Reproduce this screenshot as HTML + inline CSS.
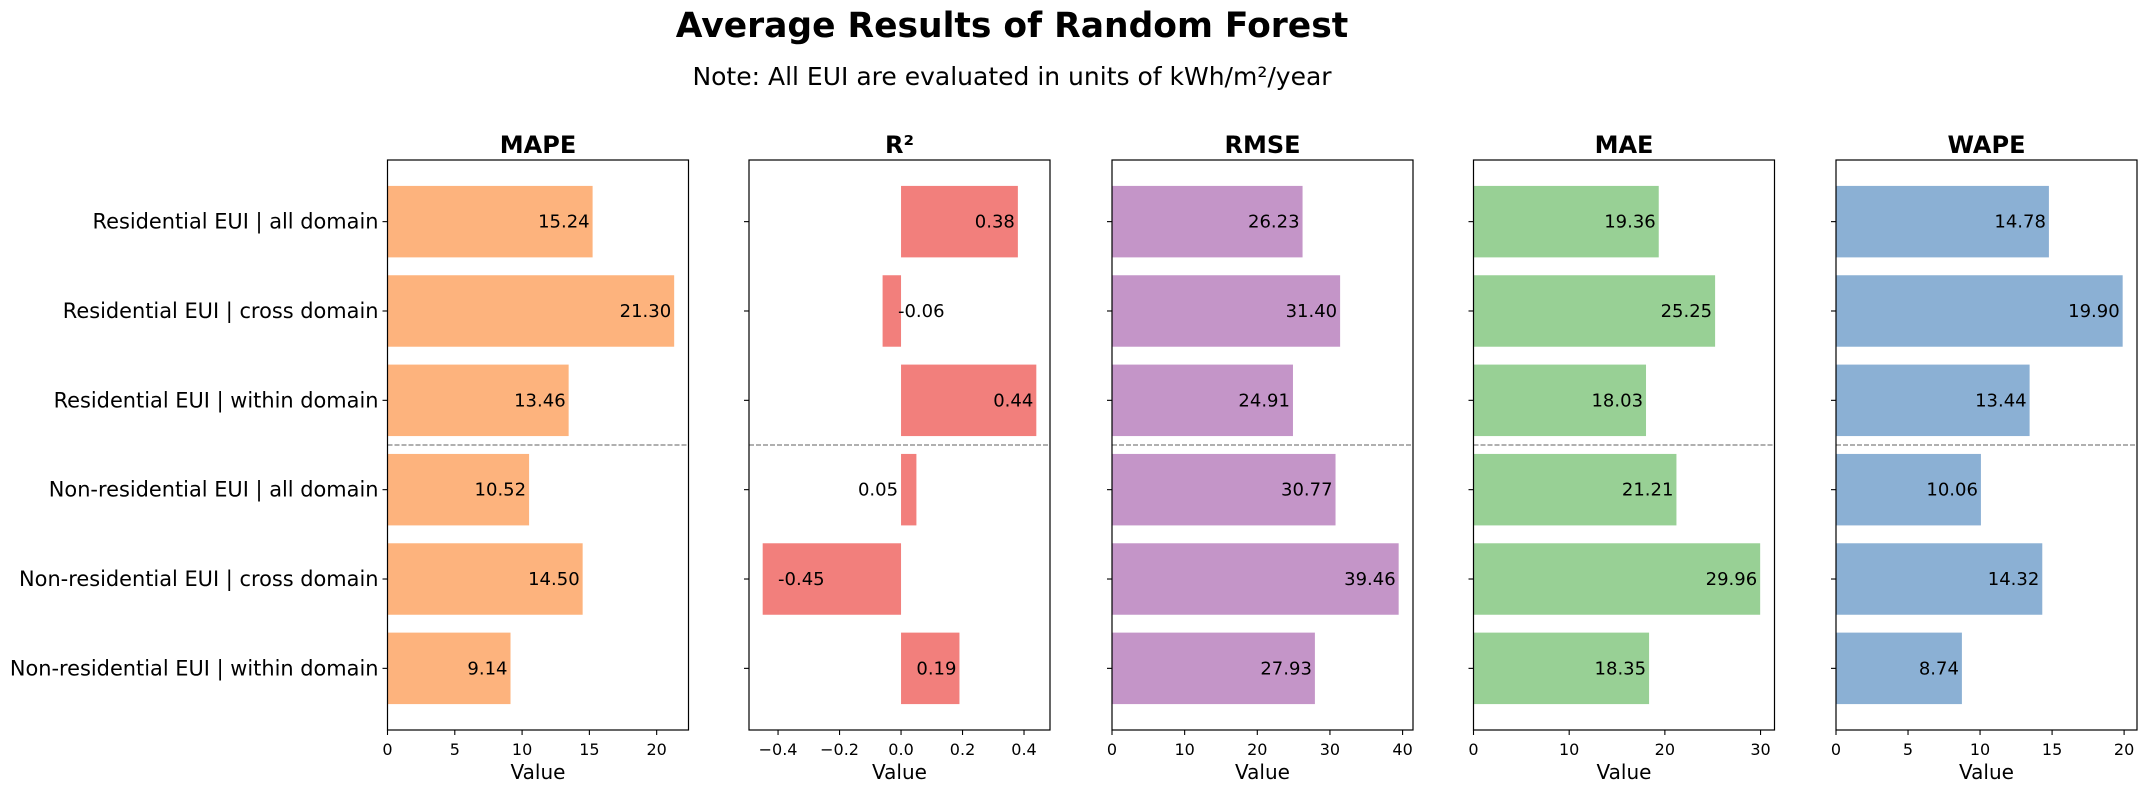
<!DOCTYPE html>
<html><head><meta charset="utf-8"><style>
body{margin:0;background:#fff;}
svg{display:block;font-family:"DejaVu Sans","Liberation Sans",sans-serif;}
</style></head><body>
<svg id="chart" width="2147" height="793" viewBox="0 0 2147 793" xmlns="http://www.w3.org/2000/svg">
<text x="1012" y="37" text-anchor="middle" font-size="34.5" font-weight="bold">Average Results of Random Forest</text>
<text x="1012" y="85" text-anchor="middle" font-size="25">Note: All EUI are evaluated in units of kWh/m²/year</text>
</svg>
<script>
const categories = ["Residential EUI | all domain","Residential EUI | cross domain","Residential EUI | within domain","Non-residential EUI | all domain","Non-residential EUI | cross domain","Non-residential EUI | within domain"];
const metrics = ["MAPE","R²","RMSE","MAE","WAPE"];
const mapeValues = [15.24,21.30,13.46,10.52,14.50,9.14];
const r2Values = [0.38,-0.06,0.44,0.05,-0.45,0.19];
const rmseValues = [26.23,31.40,24.91,30.77,39.46,27.93];
const maeValues = [19.36,25.25,18.03,21.21,29.96,18.35];
const wapeValues = [14.78,19.90,13.44,10.06,14.32,8.74];
const mapeTicks = [0,5,10,15,20];
const r2Ticks = [-0.4,-0.2,0.0,0.2,0.4];
const rmseTicks = [0,10,20,30,40];
const maeTicks = [0,10,20,30];
const wapeTicks = [0,5,10,15,20];

const svg = document.getElementById('chart');
const NS = 'http://www.w3.org/2000/svg';
function mk(tag, attrs, parent){const e=document.createElementNS(NS,tag);for(const k in attrs)e.setAttribute(k,attrs[k]);(parent||svg).appendChild(e);return e;}

const panels = [
 {vals:mapeValues,ticks:mapeTicks,color:'#FDB37D',left:387.5,dec:0},
 {vals:r2Values,ticks:r2Ticks,color:'#F27F7C',left:749,dec:1},
 {vals:rmseValues,ticks:rmseTicks,color:'#C495C8',left:1112,dec:0},
 {vals:maeValues,ticks:maeTicks,color:'#98D095',left:1473.5,dec:0},
 {vals:wapeValues,ticks:wapeTicks,color:'#8BB0D4',left:1836,dec:0}
];
const W=301, axTop=160, axBottom=730;
const yMin=-0.69, yMax=5.69;
function yS(i){return axTop+(i-yMin)/(yMax-yMin)*(axBottom-axTop);}
const bandH = 0.8*(axBottom-axTop)/(yMax-yMin);

panels.forEach((p,pi)=>{
  const vmin=Math.min(0,...p.vals), vmax=Math.max(0,...p.vals);
  const span=vmax-vmin;
  const lo = vmin<0 ? vmin-0.05*span : 0;
  const hi = vmax+0.05*span;
  const xS = v => p.left+(v-lo)/(hi-lo)*W;
  const g = mk('g',{});
  
  
  p.vals.forEach((v,i)=>{
    const x0=xS(Math.min(0,v)), x1=xS(Math.max(0,v));
    const r=mk('rect',{x:x0,y:yS(i)-bandH/2,width:x1-x0,height:bandH,fill:p.color},g);
    
    
    let t;
    if(v<0){
      t=mk('text',{x:xS(v+0.05),y:yS(i)+6,'text-anchor':'start','font-size':18},g);
    } else {
      const ex = (p.dec && v<0.1) ? xS(0)-3 : xS(v)-3;
      t=mk('text',{x:ex,y:yS(i)+6,'text-anchor':'end','font-size':18},g);
    }
    t.textContent=v.toFixed(2);
    
    
  });
  const d=mk('line',{x1:p.left,x2:p.left+W,y1:yS(2.5),y2:yS(2.5),stroke:'#808080','stroke-width':1.3,'stroke-dasharray':'5,2'},g);
  
  
  const f=mk('rect',{x:p.left,y:axTop,width:W,height:axBottom-axTop,fill:'none',stroke:'#000','stroke-width':1.2},g);
  
  
  p.ticks.forEach(tv=>{
    const x=xS(tv);
    mk('line',{x1:x,x2:x,y1:axBottom,y2:axBottom+5,stroke:'#000','stroke-width':1.1},g);
    const t=mk('text',{x:x,y:axBottom+25,'text-anchor':'middle','font-size':16},g);
    t.textContent = p.dec ? (tv<0?'\u2212':'')+Math.abs(tv).toFixed(1) : String(tv);
    
    
  });
  categories.forEach((c,i)=>{
    mk('line',{x1:p.left-5,x2:p.left,y1:yS(i),y2:yS(i),stroke:'#000','stroke-width':1.1},g);
    if(pi===0){
      const t=mk('text',{x:p.left-9,y:yS(i)+7,'text-anchor':'end','font-size':20.9},g);
      t.textContent=c;
      
      
    }
  });
  const xt=mk('text',{x:p.left+W/2,y:779,'text-anchor':'middle','font-size':20},g);
  xt.textContent='Value';
  
  
  const pt=mk('text',{x:p.left+W/2,y:153,'text-anchor':'middle','font-size':24,'font-weight':'bold'},g);
  pt.textContent=metrics[pi];
  
  
});
</script>
</body></html>
